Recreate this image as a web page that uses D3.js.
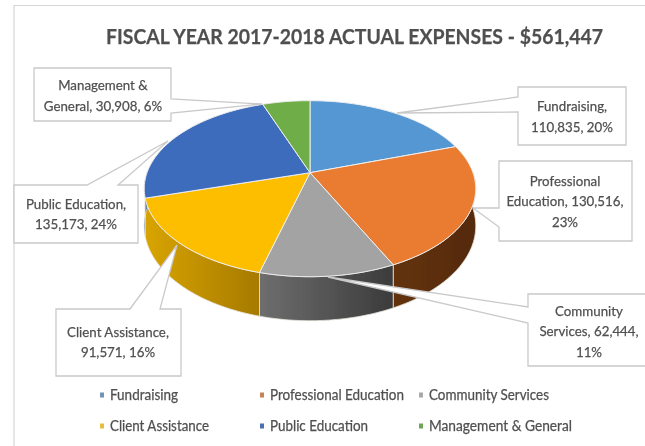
<!DOCTYPE html>
<html>
<head>
<meta charset="utf-8">
<script src="https://cdn.jsdelivr.net/npm/d3@7"></script>
<style>
  html, body { margin: 0; padding: 0; background: #fff; }
  svg { display: block; }
  text { font-family: Lato, "Open Sans", sans-serif; fill: #505050; stroke: #505050; stroke-width: 0.25px; }
</style>
</head>
<body>
<svg id="chart" width="645" height="446"></svg>
<script>
// ------------------ data ------------------
const chartTitle = 'FISCAL YEAR 2017-2018 ACTUAL EXPENSES - $561,447';
const categories = ['Fundraising', 'Professional Education', 'Community Services',
  'Client Assistance', 'Public Education', 'Management & General'];
const expenses = [110835, 130516, 62444, 91571, 135173, 30908];

// ------------------ styles ------------------
const topColors = ['#5597d3', '#ea7b31', '#a3a3a3', '#fdbe03', '#3e6cbc', '#6ead47'];
const wallColors = [
  ['#2f5f8f', '#2f5f8f'], ['#633310', '#552a0b'], ['#6e6e6e', '#3b3b3b'],
  ['#d8a400', '#a67a00'], ['#274b86', '#274b86'], ['#4a7a2c', '#4a7a2c']
];
const legendColors = ['#6f94b4', '#c4835a', '#a8a8a8', '#e8bd3c', '#4a6fb0', '#6fa552'];
const legendWidths = [68, 134, 120, 99, 98, 143];

// how each label wraps, with the callout box and its pointer
const labelLines = [
  ['Fundraising,', '110,835, 20%'],
  ['Professional', 'Education, 130,516,', '23%'],
  ['Community', 'Services, 62,444,', '11%'],
  ['Client Assistance,', '91,571, 16%'],
  ['Public Education,', '135,173, 24%'],
  ['Management &', 'General, 30,908, 6%']
];
const callouts = [
  { x0: 518, y0: 87,  x1: 626, y1: 145, side: 'left',  a: 97,  b: 112, tip: [397, 113], cx: 572, ys: [111, 132] },
  { x0: 499, y0: 161, x1: 632, y1: 241, side: 'left',  a: 208, b: 227, tip: [473, 208], cx: 565, ys: [186, 206, 227] },
  { x0: 528, y0: 294, x1: 652, y1: 366, side: 'left',  a: 307, b: 323, tip: [328, 277], cx: 589, ys: [316, 336, 357] },
  { x0: 56,  y0: 309, x1: 181, y1: 376, side: 'top',   a: 130, b: 160, tip: [177, 245], cx: 118, ys: [337, 357] },
  { x0: 14,  y0: 185, x1: 138, y1: 243, side: 'top',   a: 87,  b: 118, tip: [168, 141], cx: 76,  ys: [209, 229] },
  { x0: 34,  y0: 68,  x1: 171, y1: 121, side: 'right', a: 99,  b: 113, tip: [262, 104], cx: 103, ys: [90, 111] }
];

// ------------------ pie in perspective ------------------
const cx = 310, cy = 172.7;
const persp = -0.1818;   // the near edge is drawn bigger than the far edge
const rx = 163, ry = 85.1, depth = 36;

// angle is clockwise from 12 o'clock, h is the drop below the top face
function project(angle, r, h) {
  const u = r * Math.sin(angle), v = -r * Math.cos(angle);
  const w = 1 + persp * v;
  return [cx + rx * u / w, cy + (ry * v + h) / w];
}

function arcPoints(start, end, h) {
  return d3.range(0, 61).map(i => project(start + (end - start) * i / 60, 1, h));
}

const pie = d3.pie().sort(null).value(d => d);
const slices = pie(expenses);
const pathLine = d3.line().curve(d3.curveLinearClosed);

const root = d3.select('#chart');
const defs = root.append('defs');

// the reference is a soft, scaled-up screenshot
defs.append('filter').attr('id', 'soft')
  .attr('x', 0).attr('y', 0).attr('width', 1).attr('height', 1)
  .append('feGaussianBlur').attr('stdDeviation', 0.4);

const svg = root.append('g').attr('filter', 'url(#soft)');
svg.append('rect').attr('width', 645).attr('height', 446).attr('fill', '#fff');

// chart frame, only the top and left edges are in the picture
svg.append('path')
  .attr('d', 'M14,446V5.5H645')
  .attr('fill', 'none')
  .attr('stroke', '#d6d6d6')
  .attr('stroke-width', 1.2);

// ------------------ title ------------------
svg.append('text')
  .attr('x', 106).attr('y', 44)
  .attr('font-size', 21).attr('font-weight', 700)
  .attr('textLength', 497).attr('lengthAdjust', 'spacingAndGlyphs')
  .text(chartTitle);

// ------------------ wall gradients ------------------
wallColors.forEach((c, i) => {
  const g = defs.append('linearGradient').attr('id', `wall-${i}`);
  g.append('stop').attr('offset', '0%').attr('stop-color', c[0]);
  g.append('stop').attr('offset', '100%').attr('stop-color', c[1]);
});

// only the part of each wall that faces the viewer, so gradients span what shows
const wallData = slices.map((d, i) => {
  const lo = Math.max(d.startAngle, Math.PI / 2);
  const hi = Math.min(d.endAngle, Math.PI * 1.5);
  return { i, lo, hi };
}).filter(d => d.hi > d.lo);

svg.append('g').selectAll('path')
  .data(wallData)
  .join('path')
  .attr('d', d => pathLine(arcPoints(d.lo, d.hi, 0).concat(arcPoints(d.hi, d.lo, depth))))
  .attr('fill', d => `url(#wall-${d.i})`)
  .attr('stroke', '#e6e2da')
  .attr('stroke-width', 0.8);

// ------------------ top face ------------------
svg.append('g').selectAll('path')
  .data(slices)
  .join('path')
  .attr('d', d => pathLine([[cx, cy]].concat(arcPoints(d.startAngle, d.endAngle, 0))))
  .attr('fill', (d, i) => topColors[i])
  .attr('stroke', '#eeeeee')
  .attr('stroke-width', 1);

// ------------------ callouts ------------------
function calloutPath(c) {
  const pts = [[c.x0, c.y0]];
  if (c.side === 'top') pts.push([c.a, c.y0], c.tip, [c.b, c.y0]);
  pts.push([c.x1, c.y0]);
  if (c.side === 'right') pts.push([c.x1, c.a], c.tip, [c.x1, c.b]);
  pts.push([c.x1, c.y1], [c.x0, c.y1]);
  if (c.side === 'left') pts.push([c.x0, c.b], c.tip, [c.x0, c.a]);
  return pathLine(pts);
}

const callout = svg.append('g').selectAll('g')
  .data(callouts)
  .join('g');

callout.append('path')
  .attr('d', calloutPath)
  .attr('fill', '#fff')
  .attr('stroke', '#c9c9c9')
  .attr('stroke-width', 1.3);

callout.each(function(c, i) {
  d3.select(this).selectAll('text')
    .data(labelLines[i])
    .join('text')
    .attr('x', c.cx)
    .attr('y', (d, j) => c.ys[j])
    .attr('text-anchor', 'middle')
    .attr('font-size', 14)
    .text(d => d)
    // Lato runs a little wider than the narrow face in the picture
    .attr('textLength', function() { return this.getComputedTextLength() * 0.95; })
    .attr('lengthAdjust', 'spacingAndGlyphs');
});

// ------------------ legend ------------------
const legendCols = [102, 262, 421];
const legendRows = [395, 426];
const legendX = d3.scaleOrdinal().domain([0, 1, 2]).range(legendCols);
const legendY = d3.scaleOrdinal().domain([0, 1]).range(legendRows);

const legend = svg.append('g').selectAll('g')
  .data(categories)
  .join('g')
  .attr('transform', (d, i) => `translate(${legendX(i % 3)},${legendY(Math.floor(i / 3))})`);

legend.append('rect')
  .attr('x', -2).attr('y', -2.5)
  .attr('width', 4).attr('height', 5)
  .attr('fill', (d, i) => legendColors[i]);

legend.append('text')
  .attr('x', 8).attr('y', 5)
  .attr('font-size', 14.5)
  .attr('textLength', (d, i) => legendWidths[i])
  .attr('lengthAdjust', 'spacingAndGlyphs')
  .text(d => d);
</script>
</body>
</html>
